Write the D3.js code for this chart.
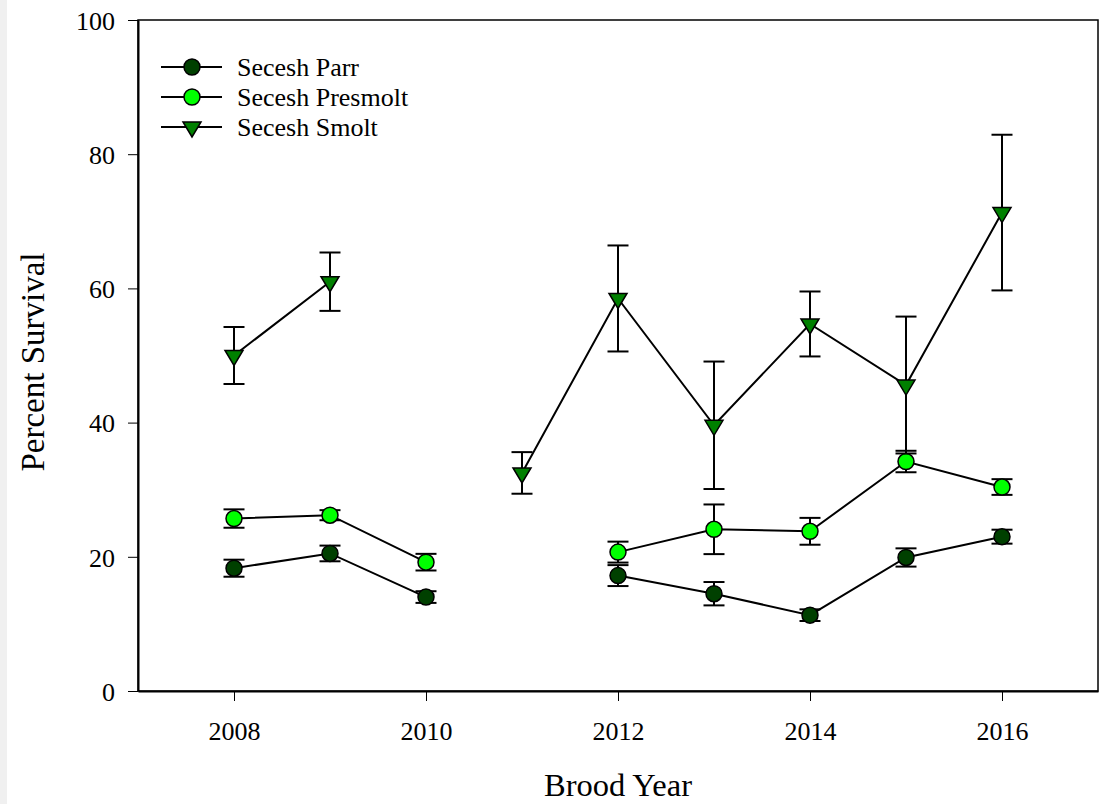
<!DOCTYPE html>
<html>
<head>
<meta charset="utf-8">
<script src="https://cdn.jsdelivr.net/npm/d3@7"></script>
<style>
  html, body { margin: 0; padding: 0; background: #ffffff; }
  svg { display: block; }
  text { font-family: "Liberation Serif", "Times New Roman", serif; fill: #000; }
</style>
</head>
<body>
<svg id="chart" width="1112" height="804"></svg>
<script>
// Brood years and survival estimates (percent) with standard errors
const years = [2008, 2009, 2010, 2011, 2012, 2013, 2014, 2015, 2016];
const parr     = [18.3, 20.5, 14.0, null, 17.2, 14.5, 11.3, 19.9, 23.0];
const parrErr  = [1.27, 1.17, 0.87, null, 1.56, 1.74, 0.87, 1.36, 1.04];
const presmolt    = [25.7, 26.2, 19.2, null, 20.7, 24.1, 23.8, 34.2, 30.4];
const presmoltErr = [1.37, 0.75, 1.24, null, 1.56, 3.7, 2.0, 1.6, 1.17];
const smolt    = [50.0, 61.0, null, 32.5, 58.5, 39.6, 54.7, 45.6, 71.3];
const smoltErr = [4.25, 4.35, null, 3.1, 7.9, 9.5, 4.84, 10.2, 11.6];

const xTicks = [2008, 2010, 2012, 2014, 2016];
const yTicks = [0, 20, 40, 60, 80, 100];

const seriesNames = ["Secesh Parr", "Secesh Presmolt", "Secesh Smolt"];
const seriesColors = ["#004000", "#00ff00", "#008000"];
const seriesShapes = ["circle", "circle", "triangle"];

const series = [
  { name: seriesNames[0], values: parr, errors: parrErr },
  { name: seriesNames[1], values: presmolt, errors: presmoltErr },
  { name: seriesNames[2], values: smolt, errors: smoltErr }
].map((s, i) => ({ ...s, color: seriesColors[i], shape: seriesShapes[i] }));

const svg = d3.select("#chart");
const plot = { left: 138, right: 1098, top: 20, bottom: 691 };

// faint grey strip along the left edge of the page
svg.append("rect").attr("x", 0).attr("y", 0).attr("width", 7).attr("height", 804).attr("fill", "#f0f0f0");

const x = d3.scaleLinear().domain([2007, 2017]).range([plot.left, plot.right]);
const y = d3.scaleLinear().domain([0, 100]).range([plot.bottom, plot.top]);

// frame
svg.append("rect")
  .attr("x", plot.left).attr("y", plot.top)
  .attr("width", plot.right - plot.left).attr("height", plot.bottom - plot.top)
  .attr("fill", "none").attr("stroke", "#000").attr("stroke-width", 1.5);

// axes
const xAxis = svg.append("g")
  .attr("transform", `translate(0,${plot.bottom})`)
  .call(d3.axisBottom(x).tickValues(xTicks).tickFormat(d3.format("d"))
    .tickSizeInner(10).tickSizeOuter(0).tickPadding(20.5));
const yAxis = svg.append("g")
  .attr("transform", `translate(${plot.left},0)`)
  .call(d3.axisLeft(y).tickValues(yTicks).tickSizeInner(10).tickSizeOuter(0).tickPadding(13));
[xAxis, yAxis].forEach(g => {
  g.select(".domain").attr("stroke", "#000").attr("stroke-width", 2);
  g.selectAll(".tick line").attr("stroke", "#000").attr("stroke-width", 1);
  g.selectAll(".tick text").style("font-family", '"Liberation Serif", serif').style("font-size", "26px").attr("fill", "#000");
});
yAxis.selectAll(".tick text").attr("dy", "0.36em");

// axis titles
svg.append("text").attr("x", (plot.left + plot.right) / 2).attr("y", 796)
  .attr("text-anchor", "middle").style("font-size", "32.5px").text("Brood Year");
svg.append("text").attr("transform", `translate(44,362) rotate(-90)`)
  .attr("text-anchor", "middle").style("font-size", "33px").text("Percent Survival");

const triPath = "M-9,-5 L9,-5 L0,10 Z";

function drawMarker(g, shape, color) {
  if (shape === "circle") {
    g.append("circle").attr("r", 8).attr("fill", color).attr("stroke", "#000").attr("stroke-width", 1.5);
  } else {
    g.append("path").attr("d", triPath).attr("fill", color).attr("stroke", "#000").attr("stroke-width", 1.5);
  }
}

const line = d3.line()
  .defined(d => d.v !== null)
  .x(d => x(d.year))
  .y(d => y(d.v));

series.forEach(s => {
  const pts = years.map((yr, i) => ({ year: yr, v: s.values[i], e: s.errors[i] }));
  const valid = pts.filter(d => d.v !== null);
  const g = svg.append("g");

  g.append("path").datum(pts).attr("d", line)
    .attr("fill", "none").attr("stroke", "#000").attr("stroke-width", 2);

  // error bars
  const eb = g.selectAll(".err").data(valid).join("g").attr("class", "err")
    .attr("stroke", "#000").attr("stroke-width", 2);
  eb.append("line").attr("x1", d => x(d.year)).attr("x2", d => x(d.year))
    .attr("y1", d => y(d.v + d.e)).attr("y2", d => y(d.v - d.e));
  eb.append("line").attr("x1", d => x(d.year) - 10.5).attr("x2", d => x(d.year) + 10.5)
    .attr("y1", d => y(d.v + d.e)).attr("y2", d => y(d.v + d.e));
  eb.append("line").attr("x1", d => x(d.year) - 10.5).attr("x2", d => x(d.year) + 10.5)
    .attr("y1", d => y(d.v - d.e)).attr("y2", d => y(d.v - d.e));

  // markers
  g.selectAll(".mk").data(valid).join("g").attr("class", "mk")
    .attr("transform", d => `translate(${x(d.year)},${y(d.v)})`)
    .each(function () { drawMarker(d3.select(this), s.shape, s.color); });
});

// legend
const legend = svg.append("g");
series.forEach((s, i) => {
  const row = legend.append("g").attr("transform", `translate(0,${67 + i * 30})`);
  row.append("line").attr("x1", 161).attr("x2", 222).attr("y1", 0).attr("y2", 0)
    .attr("stroke", "#000").attr("stroke-width", 2);
  const m = row.append("g").attr("transform", "translate(192,0)");
  drawMarker(m, s.shape, s.color);
  row.append("text").attr("x", 237).attr("y", 9).style("font-size", "26px").text(s.name);
});
</script>
</body>
</html>
